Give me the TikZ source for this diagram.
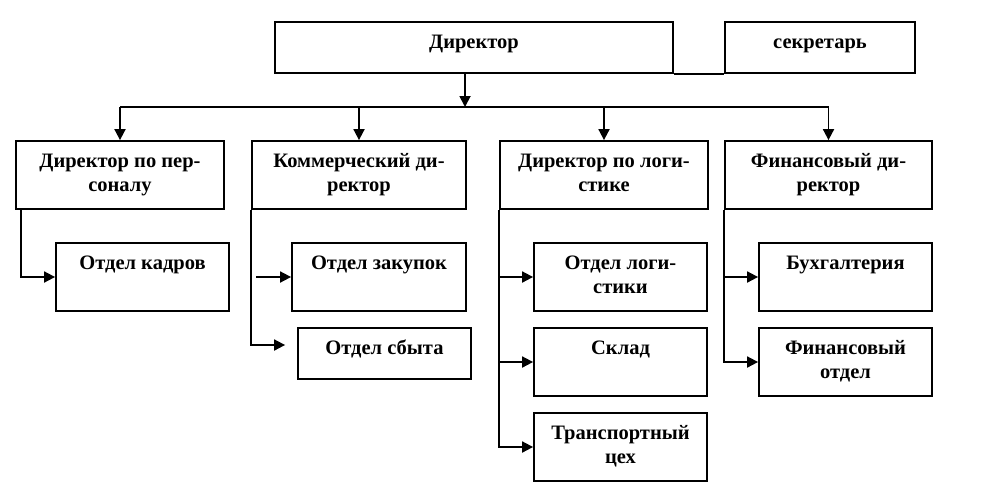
\documentclass[tikz,border=0pt]{standalone}
\usepackage{fontspec}
\setmainfont{Liberation Serif}
\usetikzlibrary{arrows.meta}
\begin{document}
\begin{tikzpicture}[x=1pt,y=-1pt,
  box/.style={draw, line width=1.8pt, rectangle, inner sep=0pt},
  lab/.style={anchor=north, yshift=-10.8pt, inner sep=0pt, align=center,
    font=\fontsize{20.5}{24}\selectfont\bfseries},
  conn/.style={line width=1.8pt},
  arr/.style={line width=1.8pt, -{Triangle[length=11pt,width=11pt]}}]
\useasboundingbox (0,0) rectangle (981,488);
% top
\node[box, minimum width=398pt, minimum height=51pt, label={[lab]north:{\strut Директор}}] (dir) at (474,47.5) {};
\node[box, minimum width=190pt, minimum height=51pt, label={[lab]north:{\strut секретарь}}] (sec) at (820,47.5) {};
% level 2
\node[box, minimum width=208pt, minimum height=68pt, label={[lab]north:{\strut Директор по пер-\\соналу}}] (p1) at (120,175) {};
\node[box, minimum width=214pt, minimum height=68pt, label={[lab]north:{\strut Коммерческий ди-\\ректор}}] (p2) at (359,175) {};
\node[box, minimum width=208pt, minimum height=68pt, label={[lab]north:{\strut Директор по логи-\\стике}}] (p3) at (604,175) {};
\node[box, minimum width=207pt, minimum height=68pt, label={[lab]north:{\strut Финансовый ди-\\ректор}}] (p4) at (828.5,175) {};
% level 3
\node[box, minimum width=173pt, minimum height=68pt, label={[lab]north:{\strut Отдел кадров}}] (kadr) at (142.5,277) {};
\node[box, minimum width=174pt, minimum height=68pt, label={[lab]north:{\strut Отдел закупок}}] (zak) at (379,277) {};
\node[box, minimum width=173pt, minimum height=51pt, label={[lab]north:{\strut Отдел сбыта}}] (sbyt) at (384.5,353.5) {};
\node[box, minimum width=173pt, minimum height=68pt, label={[lab]north:{\strut Отдел логи-\\стики}}] (log) at (620.5,277) {};
\node[box, minimum width=173pt, minimum height=68pt, label={[lab]north:{\strut Склад}}] (sklad) at (620.5,362) {};
\node[box, minimum width=173pt, minimum height=68pt, label={[lab]north:{\strut Транспортный\\цех}}] (trans) at (620.5,447) {};
\node[box, minimum width=173pt, minimum height=68pt, label={[lab]north:{\strut Бухгалтерия}}] (buh) at (845.5,277) {};
\node[box, minimum width=173pt, minimum height=68pt, label={[lab]north:{\strut Финансовый\\отдел}}] (fin) at (845.5,362) {};
% connectors
\draw[conn] (dir.south east) -- (sec.south west);
\coordinate (busc) at (465,107);
\draw[arr] (dir.south -| busc) -- (busc);
\draw[conn] (p1.north |- busc) -- (p4.north |- busc);
\draw[arr] (p1.north |- busc) -- (p1.north);
\draw[arr] (p2.north |- busc) -- (p2.north);
\draw[arr] (p3.north |- busc) -- (p3.north);
\draw[arr] (p4.north |- busc) -- (p4.north);
\draw[arr] ([xshift=6pt]p1.south west) |- (kadr.west);
\coordinate (zakstart) at ([xshift=-35pt]zak.west);
\draw[arr] (zakstart) -- (zak.west);
\coordinate (sbytend) at ([xshift=-12pt,yshift=8.5pt]sbyt.west);
\draw[arr] (p2.south west) |- (sbytend);
\draw[arr] (p3.south west) |- (log.west);
\draw[arr] (p3.south west) |- (sklad.west);
\draw[arr] (p3.south west) |- (trans.west);
\draw[arr] (p4.south west) |- (buh.west);
\draw[arr] (p4.south west) |- (fin.west);
\end{tikzpicture}
\end{document}
